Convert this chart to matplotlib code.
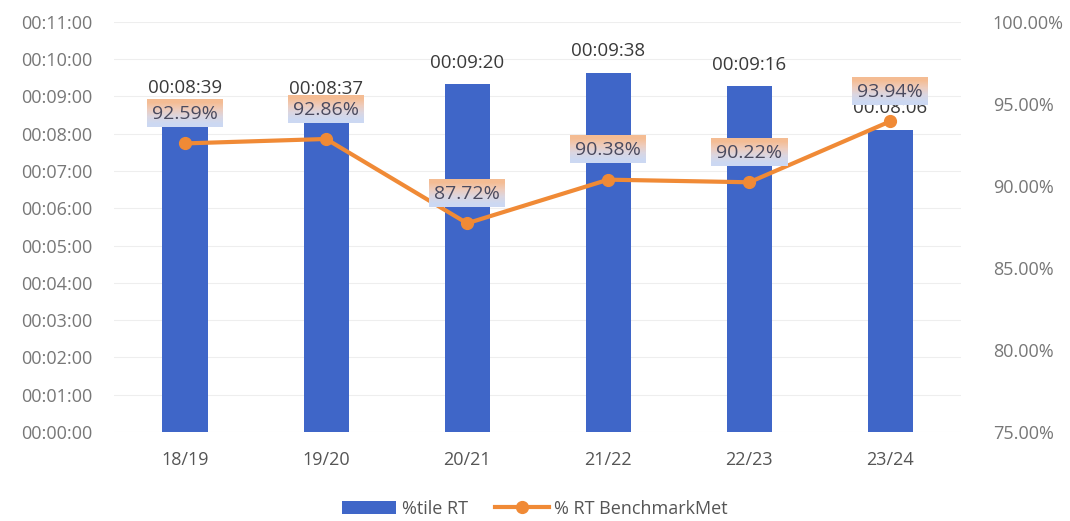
import matplotlib
matplotlib.use('Agg')
import matplotlib.pyplot as plt
from matplotlib.ticker import FuncFormatter, MultipleLocator
import numpy as np

years = ['18/19', '19/20', '20/21', '21/22', '22/23', '23/24']
rt_labels = ['00:08:39', '00:08:37', '00:09:20', '00:09:38', '00:09:16', '00:08:06']
benchmark_met = [92.59, 92.86, 87.72, 90.38, 90.22, 93.94]


def to_sec(s):
    h, m, sec = s.split(':')
    return int(h) * 3600 + int(m) * 60 + int(sec)


def fmt_time(v, pos=None):
    v = int(round(v))
    return '%02d:%02d:%02d' % (v // 3600, (v % 3600) // 60, v % 60)


rt_secs = [to_sec(s) for s in rt_labels]

plt.rcParams['font.family'] = ['Open Sans', 'DejaVu Sans']
grey = '#777777'
blue = '#3f66c8'
orange = '#f08a36'

fig = plt.figure(figsize=(10.7, 5.21), dpi=100, facecolor='white')
ax = fig.add_axes([0.107, 0.171, 0.791, 0.787])
ax2 = ax.twinx()

x = np.arange(len(years))

# BARS
bars = ax.bar(x, rt_secs, width=0.32, color=blue, zorder=2, label='%tile RT')
ax.set_ylim(0, 660)
ax.set_xlim(-0.5, len(years) - 0.5)
ax.yaxis.set_major_locator(MultipleLocator(60))
ax.yaxis.set_major_formatter(FuncFormatter(fmt_time))
ax.grid(axis='y', color='#eeeeee', linewidth=0.8, zorder=0)
ax.set_axisbelow(True)
for i, s in enumerate(rt_secs):
    ax.annotate(rt_labels[i], (x[i], s), xytext=(0, 9), textcoords='offset points',
                ha='center', va='bottom', fontsize=13.5, color='#3a3a3a', zorder=3)

# LINE
ax2.plot(x, benchmark_met, color=orange, linewidth=3, marker='o', markersize=8.5,
         zorder=4, label='% RT BenchmarkMet')
ax2.set_ylim(75, 100)
ax2.yaxis.set_major_locator(MultipleLocator(5))
ax2.yaxis.set_major_formatter(FuncFormatter(lambda v, p: '%.2f%%' % v))
pct_texts = []
for i, v in enumerate(benchmark_met):
    t = ax2.annotate('%.2f%%' % v, (x[i], v), xytext=(0, 21), textcoords='offset points',
                     ha='center', va='center', fontsize=14, color='#4a4a5e', zorder=7)
    pct_texts.append(t)

for a in (ax, ax2):
    for sp in a.spines.values():
        sp.set_visible(False)
    a.tick_params(length=0, labelsize=13, colors=grey)
ax.tick_params(axis='y', pad=16)
ax2.tick_params(axis='y', pad=23)
ax.tick_params(axis='x', labelsize=13, colors='#555555', pad=14)
ax.set_xticks(x)
ax.set_xticklabels(years)

h1, l1 = ax.get_legend_handles_labels()
h2, l2 = ax2.get_legend_handles_labels()
fig.legend(h1 + h2, l1 + l2, loc='lower center', ncol=2, frameon=False,
           bbox_to_anchor=(0.5, -0.025), fontsize=13, labelcolor='#555555',
           handlelength=3, columnspacing=1.5, handletextpad=0.3)

# gradient boxes behind percent labels (peach on top, pale blue below)
fig.canvas.draw()
grad = np.array([[0.96, 0.74, 0.58], [0.93, 0.80, 0.74], [0.86, 0.84, 0.88], [0.80, 0.85, 0.95]])
grad = grad.reshape(4, 1, 3)
inv = ax2.transData.inverted()
for t in pct_texts:
    bb = t.get_window_extent()
    (x0, y0) = inv.transform((bb.x0 - 5, bb.y0 - 4))
    (x1, y1) = inv.transform((bb.x1 + 5, bb.y1 + 6))
    ax2.imshow(grad, extent=(x0, x1, y0, y1), aspect='auto', zorder=6,
               interpolation='bilinear')
ax2.set_xlim(-0.5, len(years) - 0.5)
ax2.set_ylim(75, 100)

plt.savefig('out.png', dpi=100, facecolor='white')
